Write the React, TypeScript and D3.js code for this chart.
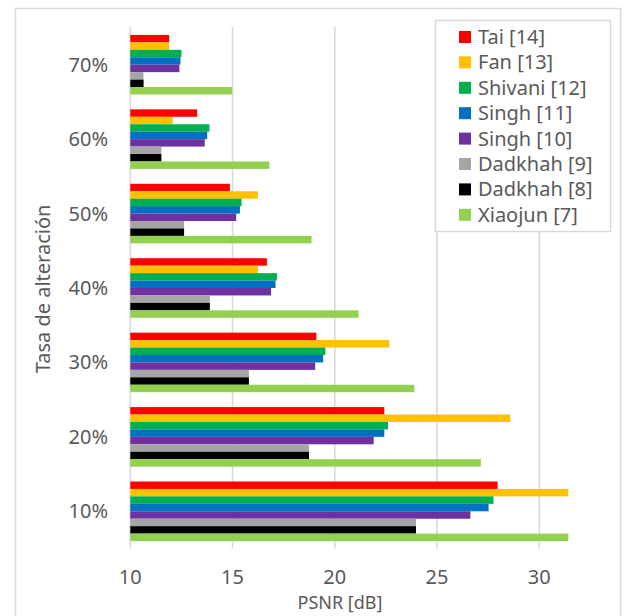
import React from "react";
import * as d3 from "d3";

const categories = ["70%", "60%", "50%", "40%", "30%", "20%", "10%"];
const seriesNames = ["Tai [14]", "Fan [13]", "Shivani [12]", "Singh [11]", "Singh [10]", "Dadkhah [9]", "Dadkhah [8]", "Xiaojun [7]"];
const seriesColors = ["#FF0000", "#FFC000", "#00B050", "#0070C0", "#7030A0", "#A5A5A5", "#000000", "#92D050"];
// values per series, in category order (70% .. 10%)
const tai = [11.9, 13.27, 14.87, 16.68, 19.1, 22.42, 27.96];
const fan = [11.9, 12.07, 16.24, 16.24, 22.66, 28.58, 31.42];
const shivani = [12.5, 13.87, 15.44, 17.17, 19.54, 22.6, 27.76];
const singh11 = [12.45, 13.76, 15.36, 17.1, 19.43, 22.42, 27.52];
const singh10 = [12.4, 13.64, 15.18, 16.88, 19.04, 21.9, 26.63];
const dadkhah9 = [10.64, 11.52, 12.63, 13.89, 15.8, 18.74, 23.97];
const dadkhah8 = [10.65, 11.52, 12.63, 13.89, 15.8, 18.74, 23.97];
const xiaojun = [14.98, 16.8, 18.86, 21.16, 23.89, 27.14, 31.42];
const seriesValues = [tai, fan, shivani, singh11, singh10, dadkhah9, dadkhah8, xiaojun];
const xTicks = [10, 15, 20, 25, 30];

const FONT = "'Noto Sans', sans-serif";
const TEXT = "#595959";
const GRID = "#d9d9d9";

export default function App() {
  const W = 629, H = 616;
  const x = d3.scaleLinear().domain([10, 30]).range([130.3, 539.3]);
  const y = d3.scaleBand<string>().domain(categories).range([27.5, 548.5]).paddingInner(0).paddingOuter(0);
  const step = y.bandwidth();
  const groupH = step * 0.8;
  const barH = groupH / seriesNames.length;
  const inner = d3.scaleBand<string>().domain(seriesNames).range([0, groupH]);

  return (
    <svg width={W} height={H} style={{ position: "absolute", left: 0, top: 0 }} fontFamily={FONT}>
      <rect x={0} y={0} width={W} height={H} fill="#fff" />
      <rect x={15.5} y={8.5} width={605} height={620} fill="none" stroke={GRID} strokeWidth={1.5} />
      {/* gridlines */}
      {xTicks.map((t) => (
        <line key={t} x1={x(t)} x2={x(t)} y1={27} y2={548.5} stroke={GRID} strokeWidth={1.6} />
      ))}
      {/* bars */}
      {categories.map((c, ci) => {
        const y0 = (y(c) as number) + (step - groupH) / 2;
        return seriesNames.map((s, si) => (
          <rect
            key={c + s}
            x={x(10)}
            y={y0 + (inner(s) as number)}
            width={x(seriesValues[si][ci]) - x(10)}
            height={barH}
            fill={seriesColors[si]}
          />
        ));
      })}
      {/* x tick labels */}
      {xTicks.map((t) => (
        <text key={t} x={x(t)} y={584} textAnchor="middle" fontSize={20} fill={TEXT}>
          {t}
        </text>
      ))}
      {/* y labels */}
      {categories.map((c) => (
        <text key={c} x={108} y={(y(c) as number) + step / 2} dy="0.35em" textAnchor="end" fontSize={20} fill={TEXT}>
          {c}
        </text>
      ))}
      <text x={340} y={609} textAnchor="middle" fontSize={18} fill={TEXT}>PSNR [dB]</text>
      <text transform={`translate(50,289) rotate(-90)`} textAnchor="middle" fontSize={20} fill={TEXT}>
        Tasa de alteración
      </text>
      {/* legend */}
      <rect x={435.5} y={20.5} width={175} height={211} fill="#fff" stroke={GRID} strokeWidth={1.5} />
      {seriesNames.map((s, i) => {
        const cy = 37 + i * 25.4;
        return (
          <g key={s}>
            <rect x={459} y={cy - 6} width={12} height={12} fill={seriesColors[i]} />
            <text x={478} y={cy} dy="0.35em" fontSize={20} fill={TEXT}>{s}</text>
          </g>
        );
      })}
    </svg>
  );
}
